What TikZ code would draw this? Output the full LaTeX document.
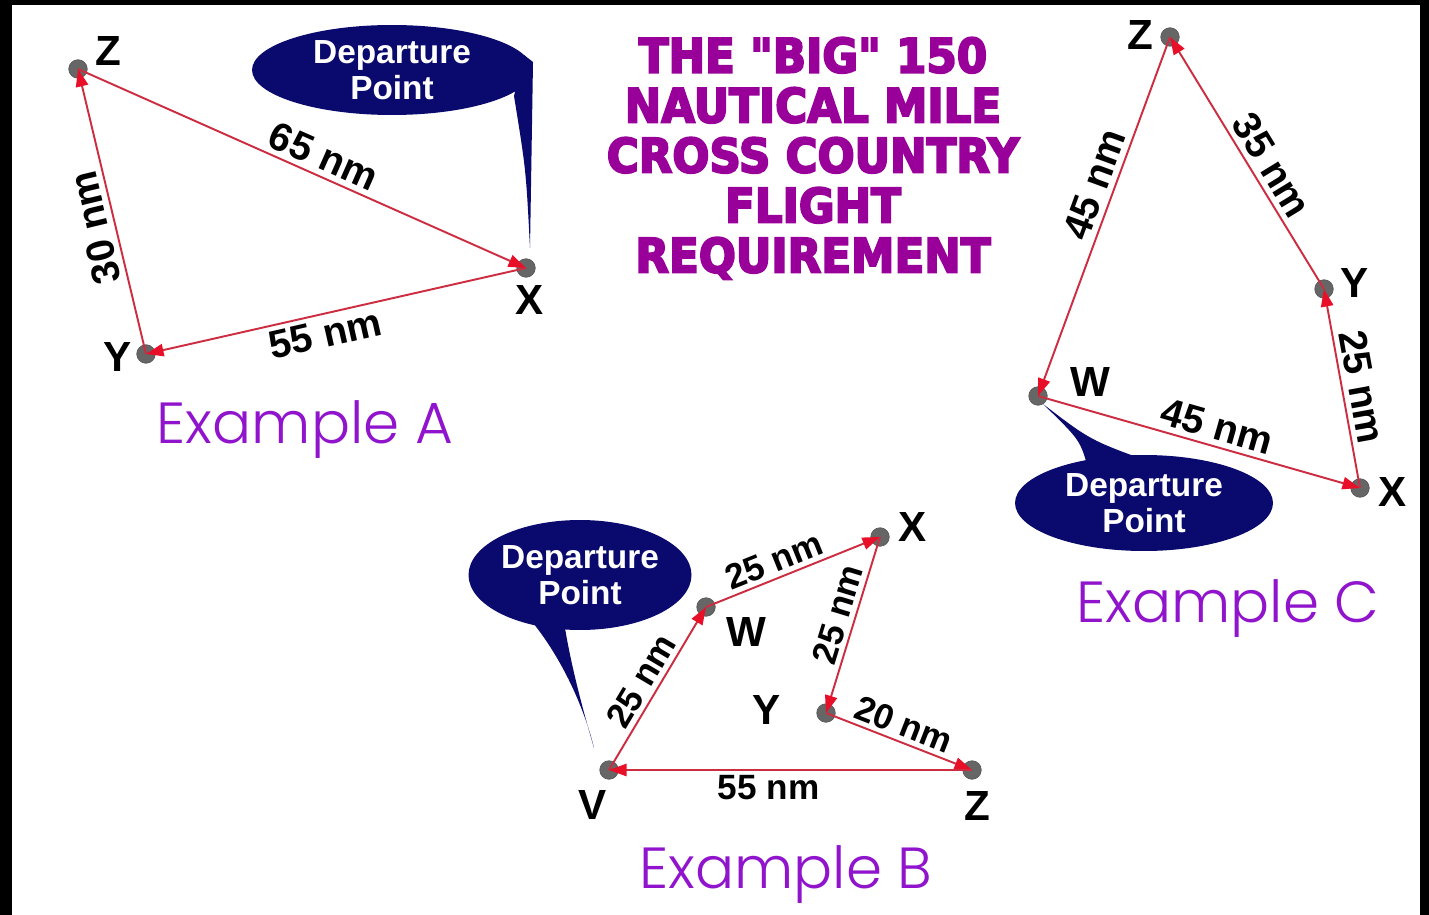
\documentclass[tikz,border=0pt]{standalone}
\usepackage{fontspec}
\setmainfont{Liberation Sans}
\newfontfamily\titlefont[FakeStretch=0.92, FakeBold=4]{DejaVu Sans}
\IfFontExistsTF{Poppins Light}
  {\newfontfamily\examplefont{Poppins Light}}
  {\newfontfamily\examplefont{Poppins}}
\usetikzlibrary{arrows.meta, shapes.geometric}
\usepackage{xcolor}
\definecolor{navy}{RGB}{10,10,110}
\definecolor{titlepurple}{RGB}{153,0,153}
\definecolor{examplepurple}{RGB}{145,20,205}
\definecolor{legred}{RGB}{205,45,65}
\definecolor{tipred}{RGB}{232,16,40}
\definecolor{dotgray}{RGB}{102,102,102}

\tikzset{
  waypt/.style={circle, fill=dotgray, draw=black!65, line width=0.4pt, minimum size=0.37cm, inner sep=0pt},
  leg/.style={legred, line width=1.1pt, -{Triangle[length=10pt, width=7pt, color=tipred]}},
  dist/.style={black, sloped, inner sep=2.5pt, font=\fontsize{20}{22}\selectfont\bfseries},
  distbig/.style={dist, inner sep=3pt, font=\fontsize{22.5}{24}\selectfont\bfseries},
  ptlabel/.style={inner sep=0pt, font=\fontsize{24}{26}\selectfont\bfseries},
  bubble/.style={ellipse, fill=navy, text=white, inner sep=0pt, align=center,
    font=\fontsize{19}{20.5}\selectfont\bfseries},
  example/.style={examplepurple, anchor=base, inner sep=0pt, font=\examplefont\fontsize{33}{36}\selectfont}
}

\begin{document}
\begin{tikzpicture}[x=0.02cm, y=-0.02cm]
    \useasboundingbox (0,0) rectangle (1429,915);
    \fill[black] (0,0) rectangle (1429,915);
    \fill[white] (12,5) rectangle (1420,915);
    %--- TITLE ---
    \node (title) [titlepurple, anchor=north, inner sep=0pt, align=center,
      font=\titlefont\fontsize{27}{28.45}\selectfont\bfseries] at (813,37)
      {THE "BIG" 150\\NAUTICAL MILE\\CROSS COUNTRY\\FLIGHT\\REQUIREMENT};
    %--- EXAMPLE A ---
    \fill[navy] (524,55) -- (533,62) -- (530,248) .. controls (526,170) .. (514,96) -- cycle;
    \node (dpA) [bubble, minimum width=5.6cm, minimum height=1.8cm] at (392,70) {Departure\\Point};
    \node (aX) [waypt] at (526,268) {};
    \node (aY) [waypt] at (146,354) {};
    \node (aZ) [waypt] at (78,69) {};
    \draw[leg] (aX.center) -- node (dAXY) [distbig, below, pos=0.54] {55 nm} (aY.center);
    \draw[leg] (aY.center) -- node (dAYZ) [distbig, above, allow upside down, pos=0.46] {30 nm} (aZ.center);
    \draw[leg] (aZ.center) -- node (dAZX) [distbig, above, pos=0.53] {65 nm} (aX.center);
    \node (aXl) [ptlabel] at (530,300) {X};
    \node (aYl) [ptlabel] at (118,357) {Y};
    \node (aZl) [ptlabel] at (108,51) {Z};
    \node (exA) [example] at (305,443) {Example A};
    %--- EXAMPLE B ---
    \fill[navy] (520,608) .. controls (560,650) and (585,710) .. (594,748)
      .. controls (580,700) and (570,660) .. (564,622) -- cycle;
    \node (dpB) [bubble, minimum width=4.2cm, minimum height=2.2cm] at (580,575) {Departure\\Point};
    \node (bV) [waypt] at (609,770) {};
    \node (bW) [waypt] at (706,607) {};
    \node (bX) [waypt] at (880,537) {};
    \node (bY) [waypt] at (826,713) {};
    \node (bZ) [waypt] at (972,770) {};
    \draw[leg] (bV.center) -- node (dBVW) [dist, above, pos=0.49] {25 nm} (bW.center);
    \draw[leg] (bW.center) -- node (dBWX) [dist, above, pos=0.43] {25 nm} (bX.center);
    \draw[leg] (bX.center) -- node (dBXY) [dist, above, pos=0.47] {25 nm} (bY.center);
    \draw[leg] (bY.center) -- node (dBYZ) [dist, above, pos=0.49] {20 nm} (bZ.center);
    \draw[leg] (bZ.center) -- node (dBZV) [dist, below, pos=0.56] {55 nm} (bV.center);
    \node (bVl) [ptlabel] at (593,805) {V};
    \node (bWl) [ptlabel] at (746,632) {W};
    \node (bXl) [ptlabel] at (913,527) {X};
    \node (bYl) [ptlabel] at (767,710) {Y};
    \node (bZl) [ptlabel] at (977,806) {Z};
    \node (exB) [example] at (786,888) {Example B};
    %--- EXAMPLE C ---
    \fill[navy] (1088,468) .. controls (1080,440) .. (1043,404)
      .. controls (1090,440) .. (1150,462) -- cycle;
    \node (dpC) [bubble, minimum width=5.16cm, minimum height=1.92cm] at (1144,503) {Departure\\Point};
    \node (cW) [waypt] at (1038,396) {};
    \node (cX) [waypt] at (1360,488) {};
    \node (cY) [waypt] at (1324,289) {};
    \node (cZ) [waypt] at (1170,37) {};
    \draw[leg] (cW.center) -- node (dCWX) [distbig, above, pos=0.54] {45 nm} (cX.center);
    \draw[leg] (cX.center) -- node (dCXY) [distbig, above, pos=0.49] {25 nm} (cY.center);
    \draw[leg] (cY.center) -- node (dCYZ) [distbig, above, pos=0.45] {35 nm} (cZ.center);
    \draw[leg] (cZ.center) -- node (dCZW) [distbig, above, pos=0.43] {45 nm} (cW.center);
    \node (cWl) [ptlabel] at (1090,382) {W};
    \node (cXl) [ptlabel] at (1393,492) {X};
    \node (cYl) [ptlabel] at (1355,283) {Y};
    \node (cZl) [ptlabel] at (1140,35) {Z};
    \node (exC) [example] at (1228,622) {Example C};
  \end{tikzpicture}
\end{document}
